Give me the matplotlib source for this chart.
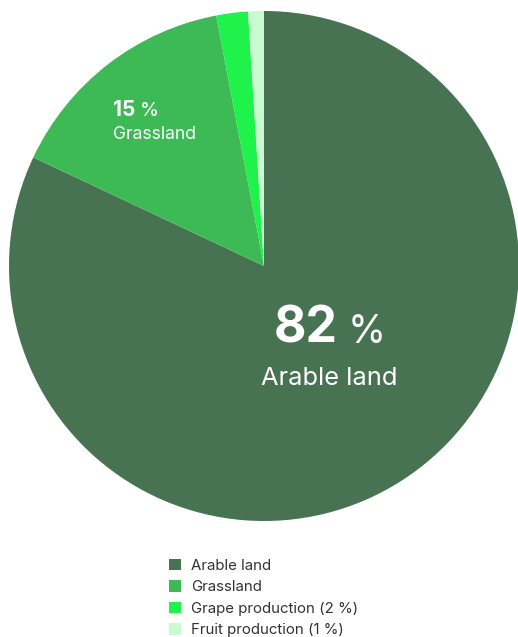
import numpy as np
import matplotlib
matplotlib.use("Agg")
import matplotlib.pyplot as plt
from matplotlib.patches import Patch

plt.rcParams["font.family"] = ["Inter", "DejaVu Sans"]

categories = ["Arable land", "Grassland", "Grape production", "Fruit production"]
shares = [82, 15, 2, 1]
legend_labels = ["Arable land", "Grassland", "Grape production (2 %)", "Fruit production (1 %)"]
colors = ["#487352", "#3dba55", "#1ff24a", "#c8fcd0"]

W, H = 518, 637
fig = plt.figure(figsize=(W / 100, H / 100), dpi=100)
fig.patch.set_facecolor("white")

cx, cy, r = 264, 266, 255
ax = fig.add_axes([(cx - r) / W, 1 - (cy + r) / H, 2 * r / W, 2 * r / H])
wedges, _ = ax.pie(shares, colors=colors, startangle=90, counterclock=False,
                   radius=1, wedgeprops=dict(linewidth=0))
ax.set_xlim(-1, 1)
ax.set_ylim(-1, 1)
ax.set_aspect("equal")
ax.axis("off")


def mid(w, rad):
    a = np.deg2rad((w.theta1 + w.theta2) / 2)
    return rad * np.cos(a), rad * np.sin(a)


fig.canvas.draw()
renderer = fig.canvas.get_renderer()
inv = ax.transData.inverted()


def value_label(w, rad, dx, dy, value, name, big, small, name_size, gap, pad, centered):
    x, y = mid(w, rad)
    x += dx
    y += dy
    num = ax.text(0, y, str(value), color="white", fontsize=big, fontweight="bold",
                  ha="left", va="baseline")
    pct = ax.text(0, y, "%", color="white", fontsize=small, ha="left", va="baseline")
    b1 = num.get_window_extent(renderer)
    b2 = pct.get_window_extent(renderer)
    total = b1.width + pad + b2.width
    x0 = ax.transData.transform((x, y))[0]
    if centered:
        x0 -= total / 2
    num.set_x(inv.transform((x0, 0))[0])
    pct.set_x(inv.transform((x0 + b1.width + pad, 0))[0])
    ax.text(x, y - gap, name, color="white", fontsize=name_size,
            ha="center" if centered else "left", va="baseline")


value_label(wedges[0], 0.42, 0.032, 0.053, shares[0], categories[0], 36, 28, 18.3, 0.165, 10, True)
value_label(wedges[1], 0.68, -0.175, 0.051, shares[1], categories[1], 15, 14, 12.6, 0.09, 4, False)

handles = [Patch(facecolor=c, edgecolor="none") for c in colors]
fig.legend(handles, legend_labels, loc="upper left", bbox_to_anchor=(161 / W, 1 - 551 / H),
           frameon=False, fontsize=10.8, labelcolor="#333333", handlelength=0.8,
           handleheight=0.8, handletextpad=0.7, labelspacing=0.5, borderpad=0)

fig.savefig("out.png", dpi=100, facecolor="white")
